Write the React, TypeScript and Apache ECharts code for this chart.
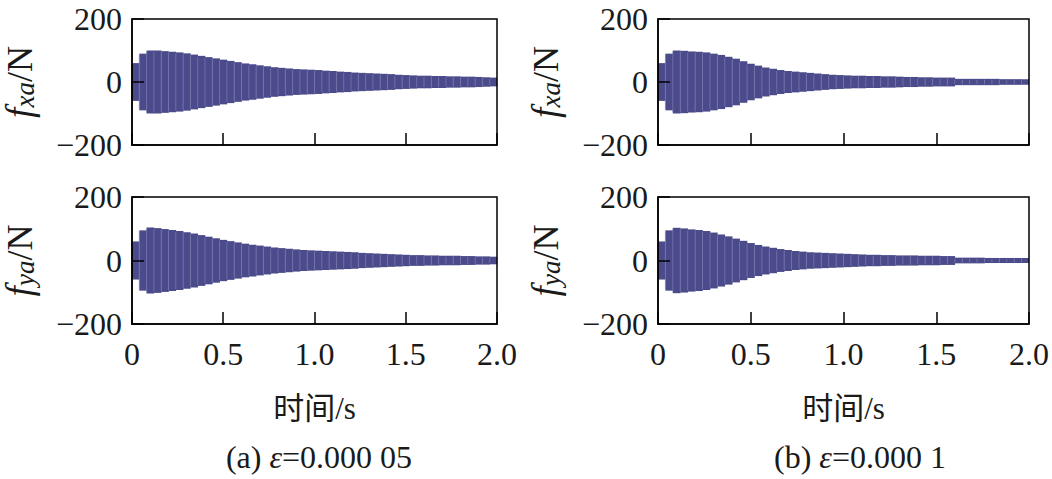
import React, { useEffect, useRef } from "react";
import * as echarts from "echarts";

// Start time (s) of each envelope segment
const segStart = [
  0, 0.04, 0.08, 0.12, 0.16, 0.2, 0.24, 0.28, 0.32, 0.36,
  0.4, 0.44, 0.48, 0.52, 0.56, 0.6, 0.64, 0.68, 0.72, 0.76,
  0.8, 0.84, 0.88, 0.92, 0.96, 1.0, 1.04, 1.08, 1.12, 1.16,
  1.2, 1.24, 1.28, 1.32, 1.36, 1.4, 1.44, 1.48, 1.52, 1.56,
  1.6, 1.64, 1.68, 1.72, 1.76, 1.8, 1.84, 1.88, 1.92, 1.96,
];
const segWidth = 0.04;

// Oscillation amplitude envelopes (N)
const fxaA = [
  60, 90, 100, 100, 98, 96, 94, 91, 87, 83,
  79, 75, 71, 67, 63, 59, 56, 53, 50, 47,
  45, 43, 41, 40, 39, 38, 36, 35, 33, 32,
  30, 29, 28, 27, 26, 25, 23, 22, 21, 20,
  20, 19, 19, 18, 18, 17, 17, 16, 15, 14,
];
const fyaA = [
  60, 95, 104, 102, 99, 96, 93, 89, 85, 80,
  75, 70, 65, 61, 57, 53, 50, 47, 44, 41,
  39, 37, 35, 33, 32, 31, 30, 29, 28, 27,
  26, 24, 23, 22, 21, 20, 19, 18, 17, 17,
  16, 16, 15, 15, 15, 14, 14, 13, 13, 12,
];
const fxaB = [
  60, 90, 100, 99, 97, 96, 94, 90, 86, 80,
  74, 66, 58, 52, 46, 42, 38, 35, 33, 31,
  29, 27, 25, 23, 22, 21, 20, 20, 19, 19,
  18, 18, 17, 16, 16, 15, 15, 14, 14, 14,
  10, 10, 10, 10, 10, 10, 9, 9, 9, 9,
];
const fyaB = [
  60, 95, 103, 101, 98, 96, 93, 88, 82, 76,
  69, 62, 55, 49, 44, 40, 36, 33, 30, 28,
  26, 25, 24, 23, 22, 21, 20, 19, 18, 18,
  17, 17, 16, 16, 16, 15, 15, 15, 14, 14,
  9, 9, 9, 9, 8, 8, 8, 8, 8, 8,
];

const xTicks = [0, 0.5, 1.0, 1.5, 2.0];
const yTicks = [-200, 0, 200];
const xName = "时间/s";
const captions = ["(a) ", "(b) "];
const captionValues = ["=0.000 05", "=0.000 1"];

const SERIF = "'Liberation Serif', 'Times New Roman', 'Noto Sans CJK SC', serif";
const FILL = "#4b4b8c";
const STRIPE = "#7d7cb2";
const INK = "#1a1a1a";

export default function App() {
  const ref = useRef<HTMLDivElement>(null);
  useEffect(() => {
    if (!ref.current) return;
    const chart = echarts.init(ref.current, undefined, { renderer: "svg" });

    const grids = [
      { left: 131, top: 19, width: 366, height: 126 },
      { left: 131, top: 197, width: 366, height: 127 },
      { left: 658, top: 19, width: 371, height: 126 },
      { left: 658, top: 197, width: 371, height: 127 },
    ];
    const dataSets = [fxaA, fyaA, fxaB, fyaB];
    const names = ["xa", "ya", "xa", "ya"];
    const isBottom = [false, true, false, true];

    const option: any = {
      animation: false,
      grid: grids.map((g) => ({ ...g, show: true, borderColor: "#000", borderWidth: 1.5, backgroundColor: "transparent", z: 5 })),
      xAxis: grids.map((_, i) => ({
        type: "value",
        gridIndex: i,
        z: 5,
        min: xTicks[0],
        max: xTicks[xTicks.length - 1],
        interval: 0.5,
        axisLine: { show: true, onZero: false, lineStyle: { color: "#000", width: 1.5 } },
        axisTick: { show: true, inside: true, length: 12, lineStyle: { color: "#000", width: 1.5 } },
        splitLine: { show: false },
        axisLabel: {
          show: isBottom[i],
          fontFamily: SERIF,
          fontSize: 32,
          color: INK,
          margin: 14,
          formatter: (v: number) => (v === 0 ? "0" : v.toFixed(1)),
        },
        name: isBottom[i] ? xName : "",
        nameLocation: "middle",
        nameGap: 69,
        nameTextStyle: { fontFamily: SERIF, fontSize: 31, color: INK },
      })),
      yAxis: grids.map((_, i) => ({
        type: "value",
        gridIndex: i,
        z: 5,
        min: yTicks[0],
        max: yTicks[yTicks.length - 1],
        interval: 200,
        axisLine: { show: true, onZero: false, lineStyle: { color: "#000", width: 1.5 } },
        axisTick: { show: true, inside: true, length: 12, lineStyle: { color: "#000", width: 1.5 } },
        splitLine: { show: false },
        axisLabel: {
          fontFamily: SERIF,
          fontSize: 32,
          color: INK,
          margin: 10,
          formatter: (v: number) => (v < 0 ? "\u2212" + Math.abs(v) : String(v)),
        },
        name: `{f|f}{s|${names[i]}}{n|/N}`,
        nameLocation: "middle",
        nameRotate: 90,
        nameGap: 94,
        nameTextStyle: {
          color: INK,
          rich: {
            f: { fontFamily: SERIF, fontStyle: "italic", fontSize: 37, color: INK, verticalAlign: "bottom", lineHeight: 40 },
            s: { fontFamily: SERIF, fontStyle: "italic", fontSize: 27, color: INK, verticalAlign: "bottom", lineHeight: 34 },
            n: { fontFamily: SERIF, fontSize: 36, color: INK, verticalAlign: "bottom", lineHeight: 40 },
          },
        },
      })),
      series: dataSets.map((amp, i) => ({
        type: "custom",
        xAxisIndex: i,
        yAxisIndex: i,
        z: 2,
        clip: true,
        data: amp.map((a, k) => [segStart[k], segStart[k] + segWidth, a]),
        renderItem: (params: any, api: any) => {
          const t0 = api.value(0);
          const t1 = api.value(1);
          const a = api.value(2);
          const p0 = api.coord([t0, a]);
          const p1 = api.coord([t1, -a]);
          return {
            type: "group",
            children: [
              {
                type: "rect",
                shape: { x: p0[0], y: p0[1], width: p1[0] - p0[0] + 0.3, height: p1[1] - p0[1] },
                style: { fill: FILL },
              },
              {
                type: "line",
                shape: { x1: p0[0], y1: p0[1] + 1, x2: p0[0], y2: p1[1] - 1 },
                style: { stroke: t0 === 0 ? FILL : STRIPE, lineWidth: 0.7 },
              },
            ],
          };
        },
      })),
      graphic: [0, 1].map((k) => ({
        type: "text",
        x: k === 0 ? 319 : 860,
        y: 457,
        style: {
          text: `{p|${captions[k]}}{e|ε}{p|${captionValues[k]}}`,
          align: "center",
          verticalAlign: "middle",
          rich: {
            p: { fontFamily: SERIF, fontSize: 32, fill: INK, color: INK },
            e: { fontFamily: SERIF, fontStyle: "italic", fontSize: 32, fill: INK, color: INK },
          },
        },
      })),
    };
    chart.setOption(option);
    return () => chart.dispose();
  }, []);

  return (
    <div
      ref={ref}
      style={{ position: "fixed", left: 0, top: 0, width: 1052, height: 479, background: "#fff" }}
    />
  );
}
